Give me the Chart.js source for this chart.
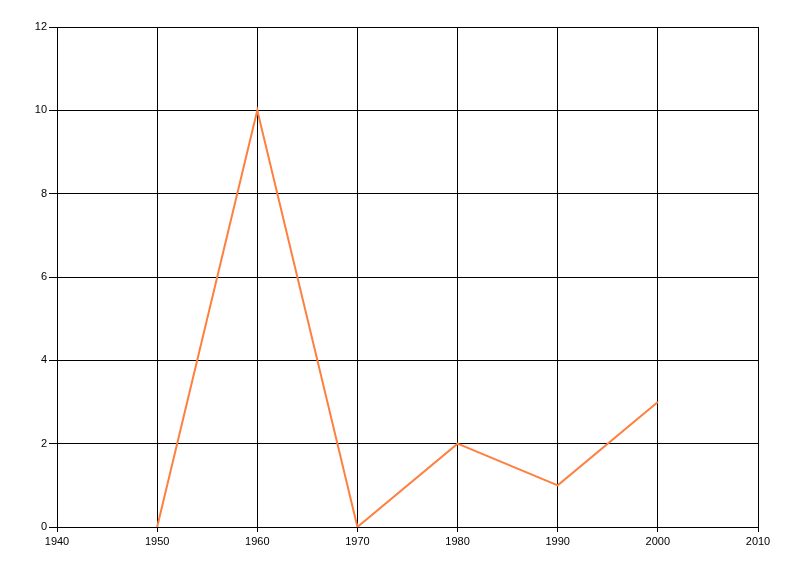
<!DOCTYPE html>
<html>
<head>
<meta charset="utf-8">
<script src="https://cdn.jsdelivr.net/npm/chart.js@4/dist/chart.umd.min.js"></script>
<style>
html,body{margin:0;padding:0;background:#fff;}
#wrap{width:800px;height:576px;position:relative;}
</style>
</head>
<body>
<div id="wrap"><canvas id="c" width="800" height="576"></canvas></div>
<script>
const years = [1950, 1960, 1970, 1980, 1990, 2000];
const values = [0, 10, 0, 2, 1, 3];
const xMin = 1940, xMax = 2010, xStep = 10;
const yMin = 0, yMax = 12, yStep = 2;

const points = years.map((x, i) => ({x: x, y: values[i]}));

new Chart(document.getElementById('c'), {
  type: 'scatter',
  data: {
    datasets: [{
      data: points,
      showLine: true,
      borderColor: 'rgb(255,127,63)',
      backgroundColor: 'rgb(255,127,63)',
      borderWidth: 2,
      pointRadius: 0,
      tension: 0
    }]
  },
  options: {
    responsive: false,
    animation: false,
    devicePixelRatio: 1,
    layout: {padding: {left: 0, right: 42, top: 27, bottom: 0}},
    plugins: {legend: {display: false}, tooltip: {enabled: false}},
    scales: {
      x: {
        type: 'linear',
        min: xMin, max: xMax,
        afterFit: s => { s.height = 49; },
        ticks: {stepSize: xStep, color: '#000', font: {family: 'Liberation Sans', size: 11}, padding: 3, maxRotation: 0,
                callback: v => String(v)},
        grid: {color: '#000', lineWidth: 1, tickLength: 5, tickColor: '#000'},
        border: {color: '#000', width: 1}
      },
      y: {
        min: yMin, max: yMax,
        afterFit: s => { s.width = 57; },
        ticks: {stepSize: yStep, color: '#000', font: {family: 'Liberation Sans', size: 11}, padding: 2},
        grid: {color: '#000', lineWidth: 1, tickLength: 8, tickColor: '#000'},
        border: {color: '#000', width: 1}
      }
    }
  }
});
</script>
</body>
</html>
